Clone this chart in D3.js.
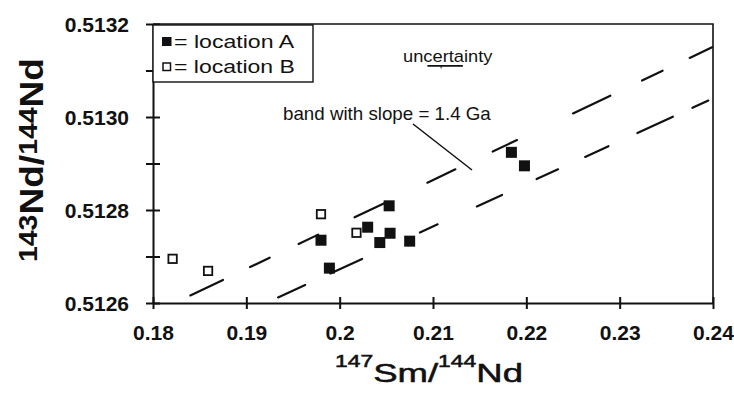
<!DOCTYPE html>
<html>
<head>
<meta charset="utf-8">
<script src="https://cdn.jsdelivr.net/npm/d3@7"></script>
<style>
  html, body { margin: 0; padding: 0; background: #fff; }
  svg { display: block; font-family: "Liberation Sans", Arial, Helvetica, sans-serif; }
</style>
</head>
<body>
<svg id="chart" width="734" height="394"></svg>
<script>
// 147Sm/144Nd vs 143Nd/144Nd for two sampling locations
const locationA = [
  { sm: 0.1980, nd: 0.512735 },
  { sm: 0.1989, nd: 0.512675 },
  { sm: 0.2030, nd: 0.512763 },
  { sm: 0.2043, nd: 0.512730 },
  { sm: 0.2053, nd: 0.512809 },
  { sm: 0.2054, nd: 0.512750 },
  { sm: 0.2075, nd: 0.512733 },
  { sm: 0.2184, nd: 0.512924 },
  { sm: 0.2198, nd: 0.512895 }
];
const locationB = [
  { sm: 0.1821, nd: 0.512695 },
  { sm: 0.1859, nd: 0.512669 },
  { sm: 0.1980, nd: 0.512791 },
  { sm: 0.2018, nd: 0.512751 }
];

// 1.4 Ga reference band: two bounding lines (end points) and their dash extents along x
const bandUpper = [[0.18, 0.512578], [0.24, 0.513151]];
const bandLower = [[0.18, 0.512489], [0.24, 0.513040]];
const bandUpperDashes = [[0.1840, 0.1875], [0.1904, 0.1925], [0.1956, 0.1977], [0.2016, 0.2049],
  [0.2094, 0.2124], [0.2164, 0.2190], [0.2250, 0.2290], [0.2324, 0.2346], [0.2375, 0.2399]];
const bandLowerDashes = [[0.1934, 0.1963], [0.1990, 0.2024], [0.2086, 0.2105], [0.2147, 0.2174],
  [0.2211, 0.2234], [0.2263, 0.2288], [0.2319, 0.2357], [0.2378, 0.2395]];

// uncertainty bar (x half-width) and annotation anchors
const uncertainty = { sm: 0.2113, half: 0.0019, nd: 0.51311 };
const uncertaintyLabel = { sm: 0.20679, nd: 0.513119, text: "uncertainty" };
const bandLabel = { sm: 0.19393, nd: 0.512994, text: "band with slope = 1.4 Ga" };
const bandLeader = [[0.20786, 0.512985], [0.21418, 0.512886]];

// axes
const xTicks = [0.18, 0.19, 0.20, 0.21, 0.22, 0.23, 0.24];
const xTickLabels = ["0.18", "0.19", "0.2", "0.21", "0.22", "0.23", "0.24"];
const yTicks = [0.5126, 0.5127, 0.5128, 0.5129, 0.5130, 0.5131, 0.5132];
const yTickLabels = ["0.5126", "", "0.5128", "", "0.5130", "", "0.5132"];
const legendLabels = ["= location A", "= location B"];

const svg = d3.select("#chart");
const plotLeft = 153, plotRight = 713, plotTop = 24, plotBottom = 303;

const x = d3.scaleLinear().domain([0.18, 0.24]).range([plotLeft, plotRight]);
const y = d3.scaleLinear().domain([0.5126, 0.5132]).range([plotBottom, plotTop]);

// stretch a text element horizontally to a given width
function fitWidth(sel, width) {
  const w = sel.node().getBBox().width;
  sel.attr("transform", `scale(${width / w},1)`);
}

// frame (top and right)
svg.append("path")
  .attr("d", `M${plotLeft},${plotTop}H${plotRight}V${plotBottom}`)
  .attr("fill", "none").attr("stroke", "#111").attr("stroke-width", 1.6);

// x axis
const gx = svg.append("g").attr("transform", `translate(0,${plotBottom})`)
  .call(d3.axisBottom(x).tickValues(xTicks).tickFormat((d, i) => xTickLabels[i]).tickSizeOuter(0));
gx.select(".domain").attr("stroke", "#111").attr("stroke-width", 2);
gx.selectAll(".tick line").attr("y1", -6).attr("y2", 6).attr("stroke", "#111").attr("stroke-width", 2);
gx.selectAll(".tick text").attr("y", 37).attr("dy", null)
  .attr("font-size", 21).attr("font-weight", "bold").attr("fill", "#111")
  .attr("font-family", "'Liberation Sans', Arial, sans-serif");

// y axis
const gy = svg.append("g").attr("transform", `translate(${plotLeft},0)`)
  .call(d3.axisLeft(y).tickValues(yTicks).tickFormat((d, i) => yTickLabels[i]).tickSizeOuter(0));
gy.select(".domain").attr("stroke", "#111").attr("stroke-width", 2);
gy.selectAll(".tick line").attr("x1", -7).attr("x2", 7).attr("stroke", "#111").attr("stroke-width", 2);
gy.selectAll(".tick text").attr("x", -24).attr("dy", "0.36em")
  .attr("font-size", 21).attr("font-weight", "bold").attr("fill", "#111")
  .attr("font-family", "'Liberation Sans', Arial, sans-serif");

// band dashes
function pointOn(line, sm) {
  const [[x0, y0], [x1, y1]] = line;
  return [sm, y0 + (y1 - y0) * (sm - x0) / (x1 - x0)];
}
[[bandUpper, bandUpperDashes], [bandLower, bandLowerDashes]].forEach(([line, dashes]) => {
  svg.append("g").selectAll("line").data(dashes).join("line")
    .attr("x1", d => x(pointOn(line, d[0])[0])).attr("y1", d => y(pointOn(line, d[0])[1]))
    .attr("x2", d => x(pointOn(line, d[1])[0])).attr("y2", d => y(pointOn(line, d[1])[1]))
    .attr("stroke", "#111").attr("stroke-width", 2.2).attr("stroke-linecap", "round");
});

// leader line for band annotation
svg.append("line")
  .attr("x1", x(bandLeader[0][0])).attr("y1", y(bandLeader[0][1]))
  .attr("x2", x(bandLeader[1][0])).attr("y2", y(bandLeader[1][1]))
  .attr("stroke", "#111").attr("stroke-width", 1.5);

// band annotation text
const bandG = svg.append("g").attr("transform", `translate(${x(bandLabel.sm)},${y(bandLabel.nd)})`);
const bandT = bandG.append("text").attr("font-size", 18).attr("fill", "#111").text(bandLabel.text);
fitWidth(bandT, 209);

// uncertainty annotation
const uncG = svg.append("g").attr("transform", `translate(${x(uncertaintyLabel.sm)},${y(uncertaintyLabel.nd)})`);
const uncT = uncG.append("text").attr("font-size", 17).attr("fill", "#111").text(uncertaintyLabel.text);
fitWidth(uncT, 90);
svg.append("line")
  .attr("x1", x(uncertainty.sm - uncertainty.half)).attr("x2", x(uncertainty.sm + uncertainty.half))
  .attr("y1", y(uncertainty.nd)).attr("y2", y(uncertainty.nd))
  .attr("stroke", "#111").attr("stroke-width", 1.6);
svg.append("line")
  .attr("x1", x(uncertainty.sm) - 4).attr("x2", x(uncertainty.sm) - 4)
  .attr("y1", y(uncertainty.nd)).attr("y2", y(uncertainty.nd) + 2.5)
  .attr("stroke", "#111").attr("stroke-width", 1);

// location B (open squares)
svg.append("g").selectAll("rect").data(locationB).join("rect")
  .attr("x", d => x(d.sm) - 4.2).attr("y", d => y(d.nd) - 4.2)
  .attr("width", 8.4).attr("height", 8.4)
  .attr("fill", "#fff").attr("stroke", "#111").attr("stroke-width", 1.8);

// location A (filled squares)
svg.append("g").selectAll("rect").data(locationA).join("rect")
  .attr("x", d => x(d.sm) - 5.5).attr("y", d => y(d.nd) - 5.5)
  .attr("width", 11).attr("height", 11)
  .attr("fill", "#111");

// legend
const lg = svg.append("g");
lg.append("rect").attr("x", plotLeft).attr("y", plotTop + 1).attr("width", 160).attr("height", 57)
  .attr("fill", "#fff").attr("stroke", "#111").attr("stroke-width", 1.4);
lg.append("rect").attr("x", 162).attr("y", 37).attr("width", 9.5).attr("height", 9)
  .attr("fill", "#111");
lg.append("rect").attr("x", 163).attr("y", 63).attr("width", 7.5).attr("height", 7.5)
  .attr("fill", "#fff").attr("stroke", "#111").attr("stroke-width", 1.5);
legendLabels.forEach((t, i) => {
  const g = lg.append("g").attr("transform", `translate(174,${48.3 + i * 25})`);
  const txt = g.append("text").attr("font-size", 18.5).attr("fill", "#111").text(t);
  fitWidth(txt, 121);
});

// x axis title: 147Sm/144Nd
const xl = svg.append("g").attr("transform", "translate(429,381.7)");
const xlt = xl.append("text").attr("text-anchor", "middle").attr("fill", "#111")
  .attr("stroke", "#111").attr("stroke-width", 0.5);
xlt.append("tspan").attr("font-size", 16).attr("dy", -15).text("147");
xlt.append("tspan").attr("font-size", 25.5).attr("dy", 15).text("Sm/");
xlt.append("tspan").attr("font-size", 16).attr("dy", -15).text("144");
xlt.append("tspan").attr("font-size", 25.5).attr("dy", 15).text("Nd");
fitWidth(xlt, 188);

// y axis title: 143Nd/144Nd
const yl = svg.append("g").attr("transform", "translate(43,160) rotate(-90)");
const ylt = yl.append("text").attr("text-anchor", "middle").attr("fill", "#111").attr("font-weight", "bold");
ylt.append("tspan").attr("font-size", 26).attr("dy", -6).text("143");
ylt.append("tspan").attr("font-size", 34).attr("dy", 6).text("Nd/");
ylt.append("tspan").attr("font-size", 26).attr("dy", -6).text("144");
ylt.append("tspan").attr("font-size", 34).attr("dy", 6).text("Nd");
fitWidth(ylt, 204);
</script>
</body>
</html>
